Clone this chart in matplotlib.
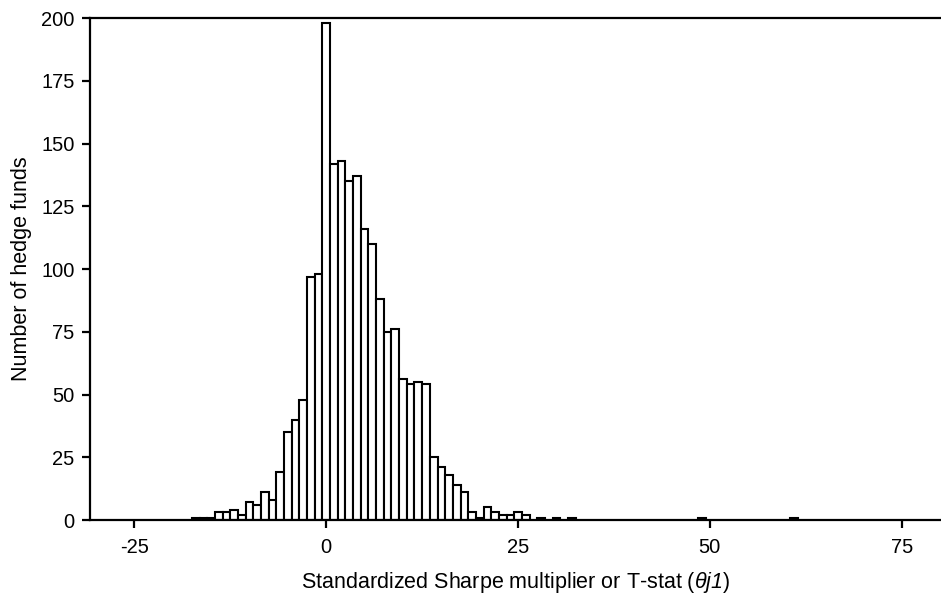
import numpy as np
import matplotlib
matplotlib.use('Agg')
import matplotlib.pyplot as plt

plt.rcParams.update({'font.family': ['Liberation Sans', 'DejaVu Sans'], 'font.size': 14,
                     'mathtext.fontset': 'custom', 'mathtext.it': 'Liberation Sans:italic',
                     'mathtext.rm': 'Liberation Sans:italic', 'axes.unicode_minus': False})

# bin centres (width 1) and fund counts
centers = [-17, -16, -15, -14, -13, -12, -11, -10, -9, -8, -7, -6, -5, -4, -3, -2, -1,
           0, 1, 2, 3, 4, 5, 6, 7, 8, 9, 10, 11, 12, 13, 14, 15, 16, 17, 18, 19, 20,
           21, 22, 23, 24, 25, 26, 28, 30, 32, 49, 61]
counts = [1, 1, 1, 3, 3, 4, 2, 7, 6, 11, 8, 19, 35, 40, 48, 97, 98,
          198, 142, 143, 135, 137, 116, 110, 88, 75, 76, 56, 54, 55, 54, 25, 21, 18, 14, 11, 3, 1,
          5, 3, 2, 2, 3, 2, 1, 1, 1, 1, 1]

fig = plt.figure(figsize=(9.41, 5.95), dpi=100)
ax = fig.add_axes([0.0956, 0.126, 0.905, 0.8437])
ax.bar(centers, counts, width=1.0, color='white', edgecolor='black', linewidth=1.5, align='center')

ax.set_xlim(-30.8, 80.2)
ax.set_ylim(0, 200)
ax.set_xticks([-25, 0, 25, 50, 75])
ax.set_yticks(range(0, 201, 25))
ax.spines['right'].set_visible(False)
for s in ['left', 'bottom', 'top']:
    ax.spines[s].set_linewidth(1.6)
ax.tick_params(direction='out', length=6, width=1.6, labelsize=14.5, pad=5)
ax.tick_params(axis='x', pad=7)
ax.set_xlabel(r'Standardized Sharpe multiplier or T-stat ($θj1$)', fontsize=15.5, labelpad=9)
ax.set_ylabel('Number of hedge funds', fontsize=15.5, labelpad=7)

fig.savefig('out.png', dpi=100)
